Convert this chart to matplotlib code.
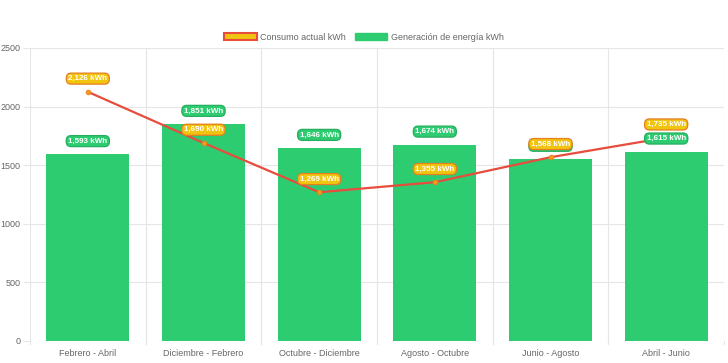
import matplotlib
matplotlib.use("Agg")
import matplotlib.pyplot as plt
from matplotlib.patches import Patch

plt.rcParams['font.family'] = ['Liberation Sans', 'DejaVu Sans']

categories = ["Febrero - Abril", "Diciembre - Febrero", "Octubre - Diciembre",
              "Agosto - Octubre", "Junio - Agosto", "Abril - Junio"]
generacion = [1593, 1851, 1646, 1674, 1553, 1615]
consumo = [2126, 1690, 1269, 1355, 1568, 1735]
yticks = [0, 500, 1000, 1500, 2000, 2500]

GREEN = "#2ecc71"
GREEN_DARK = "#27ae60"
YELLOW = "#f1c40f"
ORANGE = "#e67e22"
RED = "#e74c3c"
GRID = "#e6e6e6"
TXT = "#666666"

fig = plt.figure(figsize=(7.28, 3.63), dpi=100)
ax = fig.add_axes([30/728, 1-341/363, (724-30)/728, (341-48)/363])

x = list(range(len(categories)))
ax.bar(x, generacion, width=0.72, color=GREEN, zorder=2)
ax.plot(x, consumo, color=RED, lw=1.6, zorder=3)
ax.scatter(x, consumo, s=12, color="#f39c12", edgecolor=ORANGE, lw=0.5, zorder=4)

ax.set_xlim(-0.5, len(categories) - 0.5)
ax.set_ylim(0, 2500)
ax.set_yticks(yticks)
ax.set_yticklabels([str(v) for v in yticks])
ax.set_xticks(x)
ax.set_xticklabels(categories)
ax.grid(False)
for b in [i - 0.5 for i in range(len(categories) + 1)]:
    ax.axvline(b, color=GRID, lw=0.8, zorder=0)
    ax.plot([b, b], [0, -25], color=GRID, lw=0.8, clip_on=False, zorder=0)
for t in yticks:
    ax.axhline(t, color=GRID, lw=0.8, zorder=0)
ax.tick_params(axis='x', which='major', length=0, pad=6, labelsize=6.5, labelcolor=TXT)
ax.tick_params(axis='y', length=5, color=GRID, width=0.8, labelsize=6.5, labelcolor=TXT, pad=2)
for s in ax.spines.values():
    s.set_visible(False)

def label(xv, yv, txt, fc, ec):
    ax.annotate(txt, (xv, yv), xytext=(0, 9.5), textcoords="offset points",
                ha="center", va="center", fontsize=5.8, fontweight="bold", color="white",
                bbox=dict(boxstyle="round,pad=0.25,rounding_size=0.6", fc=fc, ec=ec, lw=0.9),
                zorder=6)

for xi, v in zip(x, generacion):
    label(xi, v, f"{v:,} kWh", GREEN, GREEN_DARK)
for xi, v in zip(x, consumo):
    label(xi, v, f"{v:,} kWh", YELLOW, ORANGE)

handles = [Patch(fc=YELLOW, ec=RED, lw=1.5, label="Consumo actual kWh"),
           Patch(fc=GREEN, ec=GREEN, label="Generación de energía kWh")]
fig.legend(handles=handles, loc="center", bbox_to_anchor=(0.5, 1-37/363), ncol=2,
           frameon=False, fontsize=6.5, labelcolor=TXT, handlelength=3.6, handleheight=0.9,
           columnspacing=1.0, handletextpad=0.4)

fig.savefig("out.png", dpi=100, facecolor="white")
